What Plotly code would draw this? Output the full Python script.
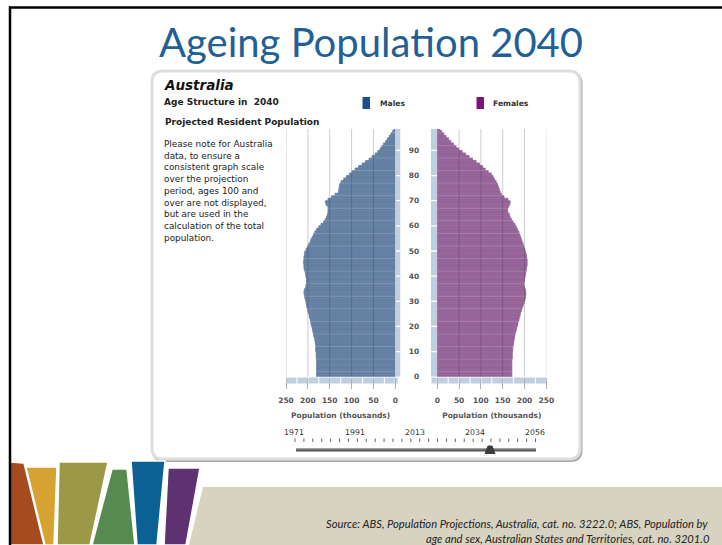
import plotly.graph_objects as go

W, H = 722, 545

# ---------------- data ----------------
AGES = list(range(100))
MALES = [180, 180, 180, 180, 180, 180, 180, 181, 181, 181,
         182, 182, 182, 183, 184, 185, 187, 188, 189, 190,
         192, 193, 194, 196, 197, 199, 200, 202, 203, 204,
         205, 207, 208, 209, 208, 205, 204, 203, 203, 204,
         205, 206, 208, 209, 209, 210, 209, 209, 208, 207,
         204, 201, 198, 195, 193, 190, 187, 184, 180, 175,
         170, 164, 160, 157, 155, 154, 154, 154, 158, 160,
         154, 146, 138, 130, 129, 128, 127, 124, 118, 112,
         105, 99, 92, 84, 76, 68, 60, 53, 46, 40,
         35, 31, 27, 22, 18, 14, 10, 6, 3, 1]
FEMALES = [171, 171, 171, 171, 171, 171, 171, 172, 172, 172,
           173, 173, 174, 175, 176, 177, 178, 179, 181, 182,
           184, 185, 187, 188, 190, 191, 193, 195, 197, 199,
           201, 202, 203, 203, 202, 200, 199, 199, 200, 201,
           202, 203, 204, 205, 206, 206, 206, 205, 204, 202,
           201, 199, 197, 195, 193, 191, 189, 187, 184, 181,
           178, 174, 170, 167, 165, 162, 161, 163, 166, 167,
           162, 153, 147, 144, 142, 140, 138, 135, 131, 128,
           124, 117, 110, 104, 97, 89, 81, 73, 65, 57,
           49, 43, 37, 31, 26, 20, 15, 10, 5, 2]
X_TICKS = [0, 50, 100, 150, 200, 250]
AGE_TICKS = list(range(0, 100, 10))
YEARS = ["1971", "1991", "2013", "2034", "2056"]
NOTE_LINES = ["Please note for Australia", "data, to ensure a",
              "consistent graph scale", "over the projection",
              "period, ages 100 and", "over are not displayed,",
              "but are used in the", "calculation of the total",
              "population."]

# ---------------- geometry helpers ----------------
def px(x):
    return x / W

def py(y):
    return 1 - y / H

M_L, M_R = 286.0, 395.3
F_L, F_R = 437.3, 546.3
P_TOP, P_BOT = 129.0, 376.7
AGE_MAX = (P_BOT - P_TOP) / 2.514

def mpx(v):  # male value -> pixel
    return M_R - v * (M_R - M_L) / 250.0

def fpx(v):
    return F_L + v * (F_R - F_L) / 250.0

FONT = "DejaVu Sans"
MALE_C = "rgb(100,128,162)"
FEMALE_C = "rgb(150,100,153)"
STRIP_C = "#bfcfe0"

fig = go.Figure()
fig.add_trace(go.Bar(y=AGES, x=MALES, orientation="h", width=1, offset=0,
                     marker=dict(color=MALE_C, line=dict(width=0.8, color=MALE_C)),
                     xaxis="x", yaxis="y", showlegend=False, name="Males"))
fig.add_trace(go.Bar(y=AGES, x=FEMALES, orientation="h", width=1, offset=0,
                     marker=dict(color=FEMALE_C, line=dict(width=0.8, color=FEMALE_C)),
                     xaxis="x2", yaxis="y2", showlegend=False, name="Females"))

tickfont = dict(family=FONT, size=7.5, color="#555555", weight="bold")
axfont = dict(family=FONT, size=7.5, color="#555555", weight="bold")

common_x = dict(tickvals=X_TICKS, ticks="outside", ticklen=11, tickcolor="#b0b0b0",
                showgrid=False, zeroline=False, showline=False, tickfont=tickfont,
                ticklabelstandoff=5, automargin=False, fixedrange=True)
common_y = dict(domain=[py(P_BOT), py(P_TOP)], range=[0, AGE_MAX], showgrid=False,
                zeroline=False, showline=False, automargin=False, fixedrange=True)

fig.update_layout(
    width=W, height=H, margin=dict(l=0, r=0, t=0, b=0),
    paper_bgcolor="white", plot_bgcolor="rgba(0,0,0,0)",
    barmode="overlay", template="none",
    xaxis=dict(domain=[px(M_L), px(M_R)], range=[250, 0], anchor="y",
               title=dict(text="Population (thousands)", font=axfont, standoff=9),
               **common_x),
    xaxis2=dict(domain=[px(F_L), px(F_R)], range=[0, 250], anchor="y2",
                title=dict(text="Population (thousands)", font=axfont, standoff=9),
                **common_x),
    yaxis=dict(anchor="x", showticklabels=False, ticks="", **common_y),
    yaxis2=dict(anchor="x2", side="left", tickvals=AGE_TICKS, ticks="",
                ticklabelstandoff=17, tickfont=tickfont, **common_y),
)

shapes = []

def rr(x0, y0, x1, y1, r):
    def p(x, y):
        return f"{px(x):.5f},{py(y):.5f}"
    return (f"M {p(x0 + r, y0)} L {p(x1 - r, y0)} Q {p(x1, y0)} {p(x1, y0 + r)} "
            f"L {p(x1, y1 - r)} Q {p(x1, y1)} {p(x1 - r, y1)} L {p(x0 + r, y1)} "
            f"Q {p(x0, y1)} {p(x0, y1 - r)} L {p(x0, y0 + r)} Q {p(x0, y0)} {p(x0 + r, y0)} Z")

def poly(points):
    s = "M " + " L ".join(f"{px(x):.5f},{py(y):.5f}" for x, y in points) + " Z"
    return s

# panel with shadow
shapes.append(dict(type="path", path=rr(153, 72.5, 581.5, 461, 11), xref="paper", yref="paper",
                   line=dict(color="#a8a8a8", width=2), fillcolor="#a8a8a8", layer="below"))
shapes.append(dict(type="path", path=rr(152, 71, 580, 459, 11), xref="paper", yref="paper",
                   line=dict(color="#dedede", width=3), fillcolor="white", layer="below"))

# slide frame lines
shapes.append(dict(type="line", xref="paper", yref="paper", x0=px(9), x1=1, y0=py(7.5), y1=py(7.5),
                   line=dict(color="black", width=2.5)))
shapes.append(dict(type="line", xref="paper", yref="paper", x0=px(10), x1=px(10), y0=py(6.5), y1=0,
                   line=dict(color="black", width=2.5)))

# bottom decor
decor = [
    ("#a64b1f", [(10, 462), (24, 463), (44, 545), (10, 545)]),
    ("#d6a232", [(26, 467), (57, 467), (54, 545), (45, 545)]),
    ("#9c9946", [(59, 462), (108, 462), (90, 545), (57, 545)]),
    ("#568a4f", [(112, 469), (127, 469), (135, 545), (92, 545)]),
    ("#0b6194", [(131, 461), (165, 461), (157, 545), (137, 545)]),
    ("#5e3270", [(168, 468), (200, 468), (186, 545), (164, 545)]),
]
for col, pts in decor:
    shapes.append(dict(type="path", path=poly(pts), xref="paper", yref="paper",
                       fillcolor=col, line=dict(color="white", width=1.5), layer="below"))
shapes.append(dict(type="path", path=poly([(203, 487), (722, 487), (722, 545), (189, 545)]),
                   xref="paper", yref="paper", fillcolor="#d8d3c1", line=dict(width=0), layer="below"))

# faint horizontal lines inside bars
for a in range(2, 99, 5):
    for xl, xr, yr in ((M_L, M_R, "y"), (F_L, F_R, "y2")):
        shapes.append(dict(type="line", xref="paper", yref=yr, x0=px(xl), x1=px(xr), y0=a, y1=a,
                           line=dict(color="rgba(255,255,255,0.16)", width=1), layer="above"))

# gridlines above bars (semi-transparent)
for v in X_TICKS:
    for xr in ("x", "x2"):
        shapes.append(dict(type="line", xref=xr, yref="paper", x0=v, x1=v,
                           y0=py(P_BOT), y1=py(P_TOP),
                           line=dict(color="rgba(40,45,65,0.24)", width=1), layer="above"))

# vertical age strips
for xl, xr_, yr in ((395.3, 400.3, "y"), (431.0, 437.0, "y2")):
    for k in range(10):
        y0 = 10 * k + (0.25 if k > 0 else 0)
        y1 = min(10 * (k + 1) - 0.25, AGE_MAX)
        shapes.append(dict(type="rect", xref="paper", yref=yr, x0=px(xl), x1=px(xr_),
                           y0=y0, y1=y1, fillcolor=STRIP_C, line=dict(width=0), layer="above"))

# bottom horizontal strips
edges_m = [mpx(v) for v in range(250, -1, -25)] + [398.0]
edges_f = [431.0] + [fpx(v) for v in range(0, 251, 25)]
for edges in (edges_m, edges_f):
    for a, b in zip(edges[:-1], edges[1:]):
        shapes.append(dict(type="rect", xref="paper", yref="paper", x0=px(a + 0.5), x1=px(b - 0.5),
                           y0=py(383.5), y1=py(377.5), fillcolor=STRIP_C, line=dict(width=0),
                           layer="above"))

# legend swatches
shapes.append(dict(type="rect", xref="paper", yref="paper", x0=px(362.5), x1=px(370),
                   y0=py(109), y1=py(97), fillcolor="#1c4f8e", line=dict(width=0)))
shapes.append(dict(type="rect", xref="paper", yref="paper", x0=px(476.5), x1=px(484),
                   y0=py(109), y1=py(97), fillcolor="#7c1479", line=dict(width=0)))

# slider
SL_L, SL_R = 295.0, 535.5
n_ticks = 27
for i in range(n_ticks + 1):
    x = SL_L + i * (SL_R - SL_L) / n_ticks
    shapes.append(dict(type="line", xref="paper", yref="paper", x0=px(x), x1=px(x),
                       y0=py(438.5), y1=py(442), line=dict(color="#666666", width=1)))
shapes.append(dict(type="line", xref="paper", yref="paper", x0=px(296), x1=px(536),
                   y0=py(450), y1=py(450), line=dict(color="#555555", width=3)))
shapes.append(dict(type="line", xref="paper", yref="paper", x0=px(296), x1=px(536),
                   y0=py(449), y1=py(449), line=dict(color="#9a9a9a", width=1)))
shapes.append(dict(type="path", path=poly([(485, 453.5), (488, 446), (492, 446), (495, 453.5)]),
                   xref="paper", yref="paper", fillcolor="#3c3c3c", line=dict(color="#3c3c3c", width=1)))

fig.update_layout(shapes=shapes)

ann = []
def text(t, x, y, size, color="#222222", family=FONT, weight="normal", style="normal",
         xanchor="left", yanchor="middle"):
    ann.append(dict(text=t, x=px(x), y=py(y), xref="paper", yref="paper", showarrow=False,
                    xanchor=xanchor, yanchor=yanchor,
                    font=dict(family=family, size=size, color=color, weight=weight, style=style)))

text("Ageing Popula\u200ction 2040", 371, 42, 40, color="#1f6096", family="Lato", xanchor="center")
text("Australia", 162, 85, 13.5, color="#111111", weight="bold", style="italic")
text("Age Structure in\u00a0 2040", 162, 102.5, 9.0, color="#222222", weight="bold")
text("Projected Resident Population", 162.5, 121.5, 9.0, color="#222222", weight="bold")
text("Males", 378, 103.5, 7.6, color="#333333", weight="bold")
text("Females", 491, 103.5, 7.6, color="#333333", weight="bold")
for i, line in enumerate(NOTE_LINES):
    text(line, 161.5, 144 + i * 11.7, 8.9, color="#222222")
year_x = [294.3, 355.3, 415.0, 475.0, 535.0]
for yr, xx in zip(YEARS, year_x):
    text(yr, xx, 432.7, 7.8, color="#333333", xanchor="center")
text("Source: ABS, Population Projections, Australia, cat. no. 3222.0; ABS, Population by",
     324, 523, 11.2, color="#222222", family="Lato", style="italic")
text("age and sex, Australian States and Territories, cat. no. 3201.0",
     424, 538, 11.2, color="#222222", family="Lato", style="italic")

fig.update_layout(annotations=ann)
fig.write_html("out.html")
